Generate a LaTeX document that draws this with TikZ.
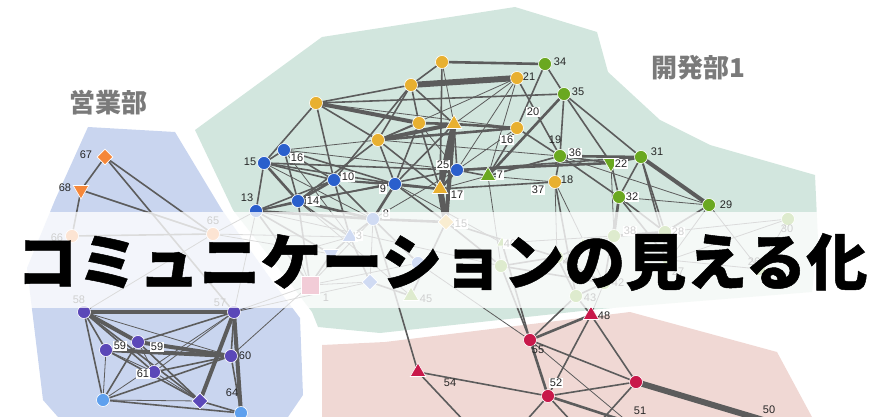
\documentclass[tikz,border=0pt]{standalone}
\usepackage{fontspec}
\setmainfont{Liberation Sans}
\newfontfamily\jp{Noto Sans CJK JP}
\newfontfamily\jpt[BoldFeatures={FakeBold=0.8}]{Noto Sans CJK JP}
\usetikzlibrary{shapes.geometric}
\definecolor{cY}{HTML}{E8B030}
\definecolor{cG}{HTML}{6AA820}
\definecolor{cB}{HTML}{2A5FCC}
\definecolor{cP}{HTML}{5B48B8}
\definecolor{cLB}{HTML}{5EA0EE}
\definecolor{cR}{HTML}{C8184A}
\definecolor{cO}{HTML}{F5873A}
\definecolor{regB}{HTML}{C9D5EF}
\definecolor{regG}{HTML}{D2E6DE}
\definecolor{regR}{HTML}{F0D8D4}
\definecolor{edge}{HTML}{5C5C5C}
\definecolor{reglab}{HTML}{7A7A7A}
\tikzset{
  nd/.style={draw=white, line width=0.6pt, inner sep=0pt},
  cir/.style={nd, circle, minimum size=13pt},
  tri/.style={nd, regular polygon, regular polygon sides=3, minimum size=18pt},
  tridn/.style={tri, shape border rotate=180},
  dia/.style={nd, diamond, minimum size=16pt},
  sq/.style={nd, rectangle, minimum size=18pt},
  lab/.style={font=\fontsize{11}{11}\selectfont, text=black!85, inner sep=1pt},
  labw/.style={lab, fill=white},
  e1/.style={draw=edge, line width=0.8pt},
  e2/.style={draw=edge, line width=1.6pt},
  e3/.style={draw=edge, line width=2.6pt},
  e4/.style={draw=edge, line width=4pt},
  e5/.style={draw=edge, line width=6pt},
  reglabel/.style={font=\jp\bfseries\fontsize{26}{26}\selectfont, text=reglab}
}
\begin{document}
\begin{tikzpicture}[x=1pt,y=-1pt]
\useasboundingbox (0,0) rectangle (884,417);
\clip (0,0) rectangle (884,417);
% regions
\fill[regB] (88,127) -- (175,132) -- (222,210) -- (275,285) -- (300,318) -- (303,395) -- (288,417) -- (58,417) -- (43,400) -- (27,268) -- (55,200) -- cycle;
\fill[regG] (195,130) -- (322,37) -- (515,7) -- (597,32) -- (608,72) -- (660,120) -- (710,145) -- (815,175) -- (818,240) -- (812,292) -- (600,309) -- (380,333) -- (318,327) -- (312,312) -- (290,283) -- (233,210) -- cycle;
\fill[regR] (322,345) -- (385,342) -- (630,312) -- (777,352) -- (812,417) -- (322,417) -- cycle;
% node coordinates (nodes drawn later)
\path
 (105,157) coordinate (n67) (81,190) coordinate (n68) (72,236) coordinate (n66) (213,234) coordinate (n65)
 (84,312) coordinate (n58) (234,312) coordinate (n57) (106,350) coordinate (n59a) (138,342) coordinate (n59b)
 (231,356) coordinate (n60) (154,372) coordinate (n61) (200,401) coordinate (n64) (103,400) coordinate (lb1) (241,413) coordinate (lb2)
 (264,163) coordinate (b15) (284,150) coordinate (b16) (334,180) coordinate (b10) (395,184) coordinate (b9)
 (298,201) coordinate (b14) (256,211) coordinate (b13) (457,170) coordinate (b25) (373,219) coordinate (b8)
 (350,237) coordinate (bt3) (297,252) coordinate (b4) (331,254) coordinate (btd) (370,282) coordinate (bd) (418,263) coordinate (b6)
 (310,285) coordinate (s1)
 (442,62) coordinate (y1) (411,85) coordinate (y2) (316,103) coordinate (y3) (419,123) coordinate (y4)
 (454,124) coordinate (ytri) (378,140) coordinate (y5) (517,128) coordinate (y6) (517,78) coordinate (y21)
 (555,182) coordinate (y18) (440,189) coordinate (y17) (446,222) coordinate (yd15)
 (545,64) coordinate (g34) (564,94) coordinate (g35) (560,156) coordinate (g36) (488,176) coordinate (gt7)
 (611,163) coordinate (g22) (641,157) coordinate (g31) (619,197) coordinate (g32) (709,205) coordinate (g29)
 (614,236) coordinate (g38) (665,232) coordinate (g28) (669,260) coordinate (g27) (604,283) coordinate (g42)
 (576,296) coordinate (g43) (788,219) coordinate (g30) (759,269) coordinate (g26) (502,243) coordinate (g40)
 (501,266) coordinate (ga) (557,257) coordinate (g41) (583,245) coordinate (gt2) (411,296) coordinate (g45)
 (591,315) coordinate (r48) (530,340) coordinate (r55) (418,372) coordinate (r54) (548,396) coordinate (r52) (636,382) coordinate (rc)
 (465,422) coordinate (c1) (628,422) coordinate (c51) (525,422) coordinate (c3) (572,422) coordinate (c4) (790,428) coordinate (c50) (600,422) coordinate (c6);
% edges
\foreach \a/\b in {n65/n58,n57/n61,n57/lb1,n57/s1,n57/b13,n57/bd,n58/n60,n59a/n61,n59a/lb1,n59b/n61,n61/n64,lb1/n64,n60/s1,n65/b13,n65/bt3,n65/btd,
 y1/ytri,y21/y5,y21/b25,y21/ytri,y21/gt7,y3/y6,y4/b25,y5/g36,y6/b25,y17/g36,b25/b16,b25/b8,gt7/y18,gt7/ga,g22/g38,g32/g29,g29/g26,g29/g27,y18/g41,
 b8/bd,b8/s1,bd/s1,s1/b6,g28/g30,g27/g26,g26/g30,g38/g41,r55/c51,r55/b6,r48/g42,g36/g29,b16/y5,b13/ga,b14/g45,b9/g40,y18/g42,b4/s1,b4/bt3,g41/gt2,g40/g38,b15/b8,b16/bt3,g30/g27}
  \draw[e1] (\a) -- (\b);
\foreach \a/\b in {n67/n68,n67/n57,n67/n65,n68/n66,n68/n65,n66/n65,n58/n59a,n58/n61,n58/lb1,n58/n64,n57/n59b,n57/n60,n59b/lb1,n59b/n64,n61/n60,lb1/lb2,lb1/n60,n64/lb2,n60/lb2,n59a/n64,
 y1/y2,y1/y17,y2/y3,y2/y4,y2/y5,y2/b10,y2/ytri,y21/g36,g34/g35,g34/y6,g35/g36,g35/y3,g35/g31,g35/g22,y3/y5,y3/b15,y3/b10,y4/y5,y4/y17,y5/y17,y5/b9,y5/b14,ytri/b25,y6/g36,y6/gt7,
 y17/y18,y17/b10,b25/g31,b25/gt7,b25/b15,b25/b13,gt7/g36,g36/g22,g36/g32,g36/y18,g22/g32,g31/g32,g31/g27,g31/g28,g32/g28,g32/g42,g32/g27,g29/g28,y18/g43,
 b15/b16,b15/b13,b15/b10,b15/b9,b16/b10,b16/b14,b16/b9,b13/b14,b13/b10,b13/btd,b14/b9,b14/bt3,b10/b9,b10/b8,b10/bt3,b9/ytri,b9/yd15,b9/y4,
 b8/bt3,bt3/btd,bt3/bd,bd/g45,yd15/ga,yd15/g41,ga/g41,ga/g42,g41/g42,g28/g27,g42/g43,g43/g41,g45/yd15,
 r54/b8,r54/r52,r54/c1,r55/rc,r55/ga,r55/g40,r55/g43,r48/rc,r48/r52,r48/g43,r52/rc,r52/c3,r52/c4,rc/c6,b13/s1,btd/s1,b8/b6,b14/s1}
  \draw[e2] (\a) -- (\b);
\foreach \a/\b in {y1/g34,y4/ytri,y5/y6,ytri/y6,y17/b25,y17/b9,b25/g22,g35/gt7,g36/g31,g22/g31,b15/b14,b14/b10,b13/b8,b14/b8,b9/b8,b8/yd15,g38/g28,r55/r48,r55/r52,r52/c51,g32/g38}
  \draw[e3] (\a) -- (\b);
\foreach \a/\b in {y3/y4,y5/ytri,ytri/yd15,g31/g29,n58/n57,n58/n59b,n57/n64,n57/lb2,n59a/n60,n59b/n60}
  \draw[e4] (\a) -- (\b);
\foreach \a/\b in {y2/y21,ytri/y17,y17/yd15,rc/c50}
  \draw[e5] (\a) -- (\b);
% nodes
\node[dia, fill=cO] (N67) at (n67) {};
\node[tridn, fill=cO] (N68) at (n68) {};
\node[cir, fill=cO] (N66) at (n66) {};
\node[cir, fill=cO] (N65) at (n65) {};
\foreach \c in {n58,n57,n59a,n59b,n60,n61} \node[cir, fill=cP] at (\c) {};
\node[dia, fill=cP] (N64) at (n64) {};
\node[cir, fill=cLB] (LB1) at (lb1) {};
\node[cir, fill=cLB] (LB2) at (lb2) {};
\foreach \c in {b15,b16,b10,b9,b14,b13,b25,b8,b4,b6} \node[cir, fill=cB] at (\c) {};
\node[tri, fill=cB] (BT3) at (bt3) {};
\node[tridn, fill=cB] (BTD) at (btd) {};
\node[dia, fill=cB] (BD) at (bd) {};
\node[sq, fill=cR] (S1) at (s1) {};
\foreach \c in {y1,y2,y3,y4,y5,y6,y21,y18} \node[cir, fill=cY] at (\c) {};
\node[tri, fill=cY] (YTRI) at (ytri) {};
\node[tri, fill=cY] (Y17) at (y17) {};
\node[dia, fill=cY] (YD15) at (yd15) {};
\foreach \c in {g34,g35,g36,g31,g32,g29,g38,g28,g27,g42,g43,g30,g26,ga,g41} \node[cir, fill=cG] at (\c) {};
\node[tri, fill=cG] (GT7) at (gt7) {};
\node[tridn, fill=cG] (G22) at (g22) {};
\node[tri, fill=cG, minimum size=12pt] (G40) at (g40) {};
\node[tri, fill=cG, minimum size=14pt] (GT2) at (gt2) {};
\node[tri, fill=cG] (G45) at (g45) {};
\node[tri, fill=cR] (R48) at (r48) {};
\node[tri, fill=cR] (R54) at (r54) {};
\foreach \c in {r55,r52,rc} \node[cir, fill=cR] at (\c) {};
% labels
\node[lab] (L67) at (86,155) {67};
\node[lab] (L68) at (65,188) {68};
\node[lab] (L66) at (57,238) {66};
\node[lab] (L65) at (213,221) {65};
\node[lab] (L58) at (79,300) {58};
\node[lab] (L57) at (220,303) {57};
\node[labw] (L59a) at (120,346) {59};
\node[labw] (L59b) at (157,347) {59};
\node[lab] (L60) at (245,356) {60};
\node[labw] (L61) at (143,374) {61};
\node[lab] (L64) at (232,393) {64};
\node[lab] (L15) at (250,162) {15};
\node[labw] (L16) at (297,158) {16};
\node[labw] (L10) at (348,177) {10};
\node[labw] (L9) at (383,189) {9};
\node[labw] (L14) at (313,201) {14};
\node[lab] (L13) at (247,198) {13};
\node[labw] (L25) at (443,165) {25};
\node[labw] (L17) at (457,195) {17};
\node[lab] (L21) at (529,77) {21};
\node[lab] (L34) at (560,62) {34};
\node[lab] (L35) at (578,92) {35};
\node[labw] (L20) at (533,112) {20};
\node[labw] (L16b) at (507,140) {16};
\node[lab] (L19) at (555,140) {19};
\node[labw] (L36) at (575,153) {36};
\node[labw] (L7) at (500,175) {7};
\node[lab] (L18) at (567,180) {18};
\node[labw] (L37) at (538,190) {37};
\node[labw] (L22) at (621,164) {22};
\node[lab] (L31) at (657,152) {31};
\node[labw] (L32) at (632,197) {32};
\node[lab] (L29) at (726,205) {29};
\node[labw] (L8) at (386,214) {8};
\node[labw] (L15b) at (461,224) {15};
\node[labw] (L3) at (359,236) {3};
\node[lab] (L4) at (306,252) {4};
\node[lab] (L6) at (428,265) {6};
\node[lab] (L1) at (326,298) {1};
\node[lab] (L45) at (426,299) {45};
\node[labw] (L40) at (510,244) {40};
\node[labw] (L38) at (630,231) {38};
\node[labw] (L28) at (678,232) {28};
\node[lab] (L27) at (678,272) {27};
\node[lab] (L42) at (618,283) {42};
\node[lab] (L43) at (590,298) {43};
\node[lab] (L30) at (787,229) {30};
\node[lab] (L26) at (754,262) {26};
\node[lab] (L41) at (569,262) {41};
\node[lab] (L48) at (604,316) {48};
\node[lab] (L55) at (538,350) {55};
\node[lab] (L54) at (450,383) {54};
\node[labw] (L52) at (556,383) {52};
\node[lab] (L51) at (640,411) {51};
\node[lab] (L50) at (769,410) {50};
% band
\fill[white, opacity=0.78] (0,212) rectangle (884,308);
\node[font=\jpt\bfseries\fontsize{61}{61}\selectfont, inner sep=0pt] (title) at (442,262) {コミュニケーションの見える化};
\node[reglabel] (rl1) at (108,103) {営業部};
\node[reglabel] (rl2) at (698,68) {開発部1};
\end{tikzpicture}
\end{document}
